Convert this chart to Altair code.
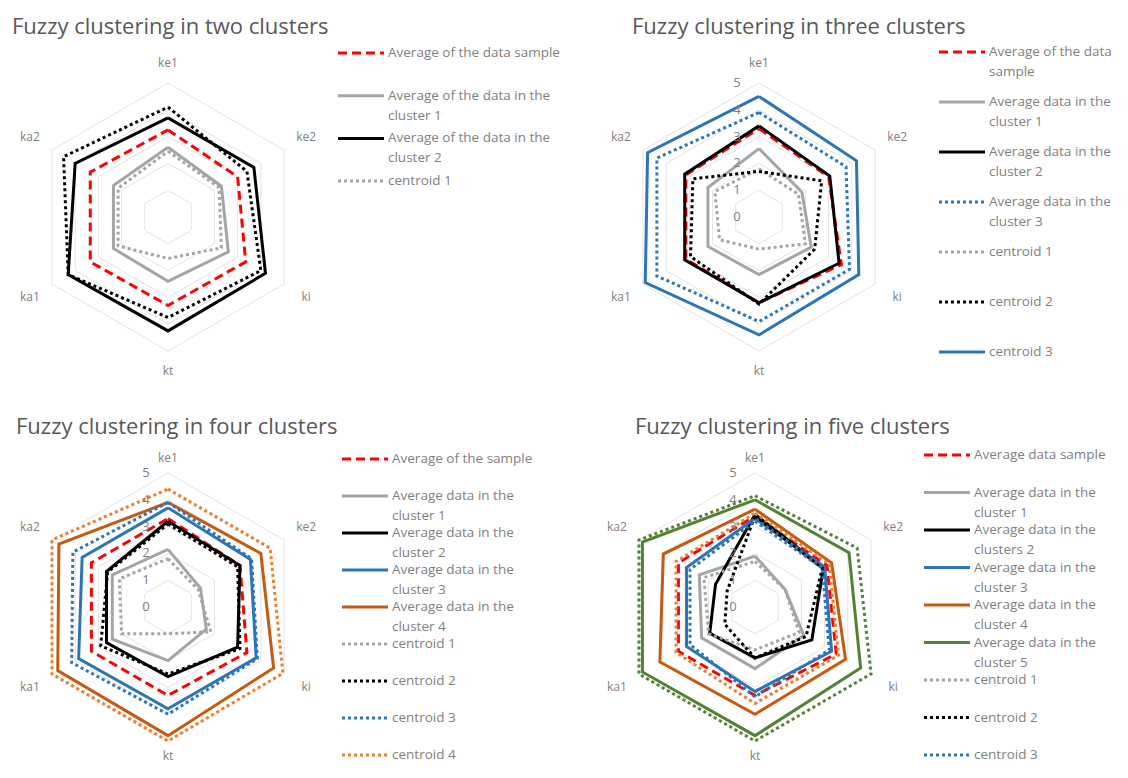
import altair as alt
import pandas as pd

# ---------------- data ----------------
AXES = ["ke1", "ke2", "ki", "kt", "ka1", "ka2"]
TICKS = [0, 1, 2, 3, 4, 5]

TWO_TITLE = "Fuzzy clustering in two clusters"
TWO_LABELS = ["Average of the data sample",
              "Average of the data in the\ncluster 1",
              "Average of the data in the\ncluster 2",
              "centroid 1", "centroid 2"]
TWO_VALUES = [
    [3.25, 3.0, 3.35, 3.3, 3.35, 3.35],
    [2.6, 2.3, 2.6, 2.4, 2.35, 2.35],
    [3.7, 3.7, 4.2, 4.25, 4.3, 4.0],
    [2.45, 2.2, 2.3, 1.55, 2.15, 2.15],
    [4.1, 3.4, 4.0, 3.75, 4.3, 4.5],
]
TWO_STYLES = ["red_dash", "gray", "black", "gray_dot", "black_dot"]

THREE_TITLE = "Fuzzy clustering in three clusters"
THREE_LABELS = ["Average of the data\nsample",
                "Average data in the\ncluster 1",
                "Average data in the\ncluster 2",
                "Average data in the\ncluster 3",
                "centroid 1", "centroid 2", "centroid 3"]
THREE_VALUES = [
    [3.3, 3.0, 3.55, 3.2, 3.15, 3.15],
    [2.55, 1.85, 2.25, 2.15, 2.2, 2.2],
    [3.4, 3.05, 3.45, 3.2, 3.2, 3.2],
    [3.9, 3.75, 3.9, 3.9, 4.4, 4.4],
    [1.8, 1.7, 2.0, 1.2, 1.7, 1.9],
    [1.7, 2.7, 2.4, 3.25, 2.95, 2.85],
    [4.5, 4.2, 4.3, 4.4, 4.9, 4.8],
]
THREE_STYLES = ["red_dash", "gray", "black", "blue_dot", "gray_dot", "black_dot", "blue"]

FOUR_TITLE = "Fuzzy clustering in four clusters"
FOUR_LABELS = ["Average of the sample",
               "Average data in the\ncluster 1",
               "Average data in the\ncluster 2",
               "Average data in the\ncluster 3",
               "Average data in the\ncluster 4",
               "centroid 1", "centroid 2", "centroid 3", "centroid 4"]
FOUR_VALUES = [
    [3.3, 3.1, 3.4, 3.3, 3.3, 3.3],
    [2.15, 1.4, 1.65, 2.0, 2.4, 2.4],
    [3.2, 3.1, 3.0, 2.6, 2.65, 2.65],
    [3.7, 3.55, 3.8, 3.8, 3.85, 3.7],
    [3.9, 4.0, 4.55, 4.8, 4.75, 4.7],
    [1.8, 1.3, 1.85, 1.0, 2.0, 2.1],
    [3.1, 3.0, 3.1, 2.5, 2.9, 2.6],
    [3.9, 3.6, 3.85, 4.0, 4.15, 4.1],
    [4.4, 4.4, 4.95, 5.0, 5.0, 5.0],
]
FOUR_STYLES = ["red_dash", "gray", "black", "blue", "orange",
               "gray_dot", "black_dot", "blue_dot", "orange_dot"]

FIVE_TITLE = "Fuzzy clustering in five clusters"
FIVE_LABELS = ["Average data sample",
               "Average data in the\ncluster 1",
               "Average data in the\nclusters 2",
               "Average data in the\ncluster 3",
               "Average data in the\ncluster 4",
               "Average data in the\ncluster 5",
               "centroid 1", "centroid 2", "centroid 3", "centroid 4", "centroid 5"]
FIVE_VALUES = [
    [3.4, 3.1, 3.5, 3.3, 3.3, 3.3],
    [1.9, 1.3, 2.1, 2.3, 2.3, 2.4],
    [3.45, 2.95, 2.45, 1.9, 1.95, 1.7],
    [3.3, 3.0, 3.3, 3.15, 2.95, 2.95],
    [3.65, 3.3, 3.9, 4.0, 4.1, 3.95],
    [4.0, 4.05, 4.55, 4.8, 4.85, 4.85],
    [1.7, 1.3, 1.9, 1.6, 2.0, 2.2],
    [3.4, 2.9, 2.2, 1.9, 1.3, 1.2],
    [3.2, 2.9, 3.2, 3.35, 2.8, 2.8],
    [3.5, 3.2, 3.6, 3.6, 3.4, 3.4],
    [4.15, 4.4, 5.0, 5.0, 5.0, 5.0],
]
FIVE_STYLES = ["red_dash", "gray", "black", "blue", "orange", "green",
               "gray_dot", "black_dot", "blue_dot", "orange_dot", "green_dot"]

# ---------------- styles ----------------
STYLES = {
    "red_dash": ("#FF0000", [9, 5]),
    "gray": ("#A5A5A5", None),
    "black": ("#000000", None),
    "blue": ("#2E75B6", None),
    "orange": ("#C55A11", None),
    "green": ("#548235", None),
    "gray_dot": ("#A5A5A5", [3, 3]),
    "black_dot": ("#000000", [3, 3]),
    "blue_dot": ("#2E75B6", [3, 3]),
    "orange_dot": ("#ED7D31", [3, 3]),
    "green_dot": ("#548235", [3, 3]),
}
FONT = "Open Sans"
TEXT_GRAY = "#7F7F7F"
UNIT = 26.8          # pixels per value unit
HALF_W = 160
LEG_FS = 13.5
LEG_DY = 20

POLAR = dict(x="datum.r * sin(datum.k * PI / 3)",
             y="datum.r * cos(datum.k * PI / 3)")


def line_kw(style):
    c, dash = STYLES[style]
    kw = dict(color=c, strokeWidth=3)
    if dash:
        kw["strokeDash"] = dash
    return kw


def radar(values, styles, show_ticks, top, bottom, lab_r):
    xs = alt.Scale(domain=[-HALF_W / UNIT, HALF_W / UNIT], nice=False, zero=False)
    ys = alt.Scale(domain=[-bottom / UNIT, top / UNIT], nice=False, zero=False)
    X = alt.X("x:Q", scale=xs, axis=None)
    Y = alt.Y("y:Q", scale=ys, axis=None)

    grid_df = pd.DataFrame([{"lvl": L, "k": k, "r": L}
                            for L in TICKS[1:] for k in range(7)])
    grid = (alt.Chart(grid_df).transform_calculate(**POLAR)
            .mark_line(color="#E3E3E3", strokeWidth=1)
            .encode(x=X, y=Y, detail="lvl:N", order="k:Q"))
    layers = [grid]
    for vals, st in zip(values, styles):
        df = pd.DataFrame({"k": list(range(7)), "r": [vals[k % 6] for k in range(7)]})
        layers.append(alt.Chart(df).transform_calculate(**POLAR)
                      .mark_line(**line_kw(st))
                      .encode(x=X, y=Y, order="k:Q"))
    lab_df = pd.DataFrame({"k": list(range(6)), "name": AXES})
    labels = (alt.Chart(lab_df)
              .transform_calculate(r=f"datum.k % 3 == 0 ? {lab_r} : 5.95")
              .transform_calculate(**POLAR)
              .mark_text(font=FONT, fontSize=12, color=TEXT_GRAY)
              .encode(x=X, y=Y, text="name:N"))
    layers.append(labels)
    if show_ticks:
        tdf = pd.DataFrame({"t": TICKS})
        ticks = (alt.Chart(tdf)
                 .transform_calculate(x="-0.82", y="datum.t", lab="'' + datum.t")
                 .mark_text(font=FONT, fontSize=13, color=TEXT_GRAY)
                 .encode(x=X, y=Y, text="lab:N"))
        layers.append(ticks)
    return alt.layer(*layers).properties(width=2 * HALF_W, height=top + bottom)


def legend(labels, styles, n, first, step, height, width):
    d0 = -first / step
    ys = alt.Scale(domain=[d0, d0 + height / step], reverse=True, nice=False, zero=False)
    Y = alt.Y("i:Q", scale=ys, axis=None)
    layers = []
    for i in range(n):
        df = pd.DataFrame({"i": [i]})
        layers.append(alt.Chart(df).mark_rule(**line_kw(styles[i]))
                      .encode(x=alt.value(0), x2=alt.value(46), y=Y))
    tdf = pd.DataFrame({"i": list(range(n)), "label": labels[:n]})
    base = alt.Chart(tdf).transform_calculate(
        l1="split(datum.label, '\\n')[0]",
        l2="length(split(datum.label, '\\n')) > 1 ? split(datum.label, '\\n')[1] : ''")
    t1 = base.mark_text(align="left", baseline="middle", font=FONT, fontSize=LEG_FS,
                        color=TEXT_GRAY).encode(x=alt.value(50), y=Y, text="l1:N")
    t2 = (base.transform_filter("datum.l2 != ''")
          .mark_text(align="left", baseline="middle", font=FONT, fontSize=LEG_FS,
                     color=TEXT_GRAY, dy=LEG_DY)
          .encode(x=alt.value(50), y=Y, text="l2:N"))
    layers += [t1, t2]
    return alt.layer(*layers).properties(width=width, height=height)


def panel(title, dx, rchart, lchart, gap):
    return alt.hconcat(rchart, lchart, spacing=gap).properties(
        title=alt.Title(title, anchor="start", dx=dx, fontSize=22, font=FONT,
                        color="#595959", fontWeight="normal", offset=6))


R1_TOP, R1_BOT = 172, 162
R2_TOP, R2_BOT = 162, 156

p1 = panel(TWO_TITLE, 4,
           radar(TWO_VALUES, TWO_STYLES, False, R1_TOP, R1_BOT, 5.75),
           legend(TWO_LABELS, TWO_STYLES, 4, 8, 42.7, R1_TOP + R1_BOT, 261), 8)
p2 = panel(THREE_TITLE, 33,
           radar(THREE_VALUES, THREE_STYLES, True, R1_TOP, R1_BOT, 5.75),
           legend(THREE_LABELS, THREE_STYLES, 7, 7, 50, R1_TOP + R1_BOT, 177), 18)
p3 = panel(FOUR_TITLE, 8,
           radar(FOUR_VALUES, FOUR_STYLES, True, R2_TOP, R2_BOT, 5.55),
           legend(FOUR_LABELS, FOUR_STYLES, 9, 14, 37, R2_TOP + R2_BOT, 253), 12)
p4 = panel(FIVE_TITLE, 40,
           radar(FIVE_VALUES, FIVE_STYLES, True, R2_TOP, R2_BOT, 5.55),
           legend(FIVE_LABELS, FIVE_STYLES, 9, 10, 37.5, R2_TOP + R2_BOT, 185), 7)

row1 = alt.hconcat(p1, p2, spacing=0)
row2 = alt.hconcat(p3, p4, spacing=0)
chart = (alt.vconcat(row1, row2, spacing=37)
         .properties(padding={"left": 0, "top": 8, "right": 0, "bottom": 0},
                     background="white")
         .configure_view(stroke=None))

chart.save("out.html", embed_options={"renderer": "svg", "actions": False})
